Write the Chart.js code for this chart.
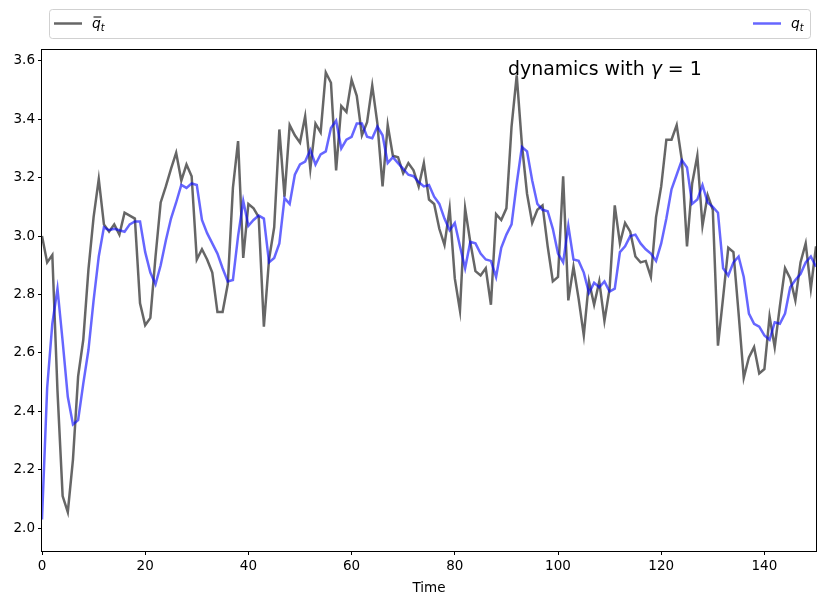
<!DOCTYPE html>
<html>
<head>
<meta charset="utf-8">
<script src="https://cdn.jsdelivr.net/npm/chart.js@4.4.0/dist/chart.umd.min.js"></script>
<style>
  body { margin: 0; background: #fff; }
  #wrap { width: 826px; height: 604px; }
</style>
</head>
<body>
<div id="wrap"><canvas id="chart" width="826" height="604"></canvas></div>
<script>
// time index 0..150
const timeSteps = [
  0, 1, 2, 3, 4, 5, 6, 7, 8, 9, 10, 11, 12, 13, 14, 15, 16, 17, 18, 19,
  20, 21, 22, 23, 24, 25, 26, 27, 28, 29, 30, 31, 32, 33, 34, 35, 36, 37, 38, 39,
  40, 41, 42, 43, 44, 45, 46, 47, 48, 49, 50, 51, 52, 53, 54, 55, 56, 57, 58, 59,
  60, 61, 62, 63, 64, 65, 66, 67, 68, 69, 70, 71, 72, 73, 74, 75, 76, 77, 78, 79,
  80, 81, 82, 83, 84, 85, 86, 87, 88, 89, 90, 91, 92, 93, 94, 95, 96, 97, 98, 99,
  100, 101, 102, 103, 104, 105, 106, 107, 108, 109, 110, 111, 112, 113, 114, 115, 116, 117, 118, 119,
  120, 121, 122, 123, 124, 125, 126, 127, 128, 129, 130, 131, 132, 133, 134, 135, 136, 137, 138, 139,
  140, 141, 142, 143, 144, 145, 146, 147, 148, 149, 150
];

// q-bar_t (grey)
const qBar = [
  3.00, 2.91, 2.935, 2.47, 2.11, 2.055, 2.235, 2.52, 2.645, 2.885,
  3.065, 3.195, 3.04, 3.015, 3.04, 3.005, 3.08, 3.07, 3.06, 2.77,
  2.695, 2.72, 2.93, 3.115, 3.17, 3.23, 3.285, 3.19, 3.245, 3.205,
  2.92, 2.955, 2.92, 2.875, 2.74, 2.74, 2.835, 3.165, 3.325, 2.925,
  3.11, 3.095, 3.065, 2.69, 2.92, 3.03, 3.365, 3.135, 3.38, 3.345,
  3.32, 3.41, 3.23, 3.385, 3.355, 3.56, 3.525, 3.225, 3.445, 3.425,
  3.535, 3.48, 3.345, 3.39, 3.515, 3.385, 3.17, 3.38, 3.275, 3.27,
  3.215, 3.25, 3.225, 3.17, 3.25, 3.125, 3.11, 3.025, 2.97, 3.095,
  2.855, 2.745, 3.095, 2.98, 2.88, 2.865, 2.89, 2.765, 3.075, 3.055,
  3.095, 3.375, 3.55, 3.315, 3.145, 3.045, 3.09, 3.105, 2.965, 2.845,
  2.86, 3.205, 2.78, 2.895, 2.785, 2.66, 2.845, 2.765, 2.845, 2.71,
  2.82, 3.105, 2.975, 3.045, 3.015, 2.93, 2.91, 2.915, 2.86, 3.065,
  3.17, 3.33, 3.33, 3.38, 3.26, 2.965, 3.18, 3.275, 3.035, 3.14,
  3.09, 2.625, 2.79, 2.96, 2.945, 2.735, 2.515, 2.585, 2.62, 2.53,
  2.545, 2.725, 2.62, 2.76, 2.89, 2.855, 2.78, 2.91, 2.975, 2.82,
  2.965
];

// q_t (blue)
const q = [
  2.03, 2.48, 2.70, 2.82, 2.64, 2.45, 2.355, 2.37, 2.495, 2.61,
  2.78, 2.93, 3.03, 3.02, 3.025, 3.02, 3.015, 3.04, 3.05, 3.05,
  2.945, 2.875, 2.835, 2.90, 2.985, 3.06, 3.115, 3.175, 3.165, 3.18,
  3.175, 3.055, 3.01, 2.975, 2.94, 2.89, 2.845, 2.85, 3.00, 3.12,
  3.035, 3.055, 3.07, 3.06, 2.91, 2.925, 2.975, 3.13, 3.11, 3.21,
  3.245, 3.255, 3.295, 3.245, 3.28, 3.29, 3.37, 3.395, 3.30, 3.33,
  3.34, 3.385, 3.385, 3.34, 3.335, 3.375, 3.345, 3.25, 3.27, 3.25,
  3.23, 3.21, 3.205, 3.185, 3.17, 3.175, 3.135, 3.11, 3.06, 3.02,
  3.045, 2.965, 2.89, 2.98, 2.975, 2.94, 2.92, 2.915, 2.86, 2.96,
  3.005, 3.04, 3.18, 3.305, 3.29, 3.19, 3.11, 3.09, 3.085, 3.025,
  2.94, 2.91, 3.035, 2.92, 2.915, 2.875, 2.805, 2.84, 2.825, 2.845,
  2.81, 2.82, 2.945, 2.965, 3.00, 3.005, 2.975, 2.955, 2.94, 2.915,
  2.975, 3.06, 3.16, 3.21, 3.26, 3.235, 3.11, 3.125, 3.175, 3.115,
  3.10, 3.08, 2.89, 2.865, 2.91, 2.93, 2.86, 2.735, 2.70, 2.69,
  2.66, 2.645, 2.705, 2.70, 2.735, 2.825, 2.85, 2.87, 2.91, 2.93,
  2.895
];

const xTicks = [0, 20, 40, 60, 80, 100, 120, 140];
const yTicks = [2.0, 2.2, 2.4, 2.6, 2.8, 3.0, 3.2, 3.4, 3.6];

const FONT = 'DejaVu Sans';
const greyColor = 'rgba(0, 0, 0, 0.6)';
const blueColor = 'rgba(0, 0, 255, 0.6)';

// draws q / q-bar with subscript t, mathtext style
function drawQ(ctx, x, y, bar) {
  ctx.font = 'italic 13.9px "' + FONT + '"';
  ctx.fillText('q', x, y);
  const w = ctx.measureText('q').width;
  if (bar) {
    ctx.beginPath();
    ctx.lineWidth = 1;
    ctx.strokeStyle = '#000';
    ctx.moveTo(x + 1.5, y - 11);
    ctx.lineTo(x + w + 0.5, y - 11);
    ctx.stroke();
  }
  ctx.font = 'italic 9.7px "' + FONT + '"';
  ctx.fillText('t', x + w, y + 2.5);
}

const decorations = {
  id: 'decorations',
  afterDraw(chart) {
    const { ctx, chartArea: a } = chart;
    ctx.save();

    // all four spines
    ctx.strokeStyle = '#000';
    ctx.lineWidth = 1;
    ctx.strokeRect(Math.round(a.left) - 0.5, Math.round(a.top) - 0.5,
      Math.round(a.right - a.left) + 1, Math.round(a.bottom - a.top) + 1);

    // text inside the axes
    ctx.fillStyle = '#000';
    ctx.textBaseline = 'alphabetic';
    let tx = 508, ty = 75;
    ctx.font = '18.9px "' + FONT + '"';
    ctx.fillText('dynamics with ', tx, ty);
    tx += ctx.measureText('dynamics with ').width;
    ctx.font = 'italic 18.9px "' + FONT + '"';
    ctx.fillText('γ', tx, ty);
    tx += ctx.measureText('γ').width;
    ctx.font = '18.9px "' + FONT + '"';
    ctx.fillText(' = 1', tx, ty);

    // legend box (expanded across the top)
    ctx.beginPath();
    ctx.roundRect(49.5, 9.5, 761, 29, 3);
    ctx.fillStyle = 'rgba(255,255,255,0.8)';
    ctx.fill();
    ctx.strokeStyle = 'rgba(204,204,204,0.9)';
    ctx.lineWidth = 1;
    ctx.stroke();

    ctx.lineWidth = 2.5;
    ctx.strokeStyle = greyColor;
    ctx.beginPath();
    ctx.moveTo(54, 23.5);
    ctx.lineTo(82, 23.5);
    ctx.stroke();

    ctx.strokeStyle = blueColor;
    ctx.beginPath();
    ctx.moveTo(753, 23.5);
    ctx.lineTo(781, 23.5);
    ctx.stroke();

    ctx.fillStyle = '#000';
    drawQ(ctx, 92, 28, true);
    drawQ(ctx, 791, 28, false);

    ctx.restore();
  }
};

const tickFont = { family: FONT, size: 13.5 };

new Chart(document.getElementById('chart').getContext('2d'), {
  type: 'line',
  data: {
    labels: timeSteps,
    datasets: [
      {
        label: 'q_t',
        data: q,
        borderColor: blueColor,
        borderWidth: 2.5,
        pointRadius: 0,
        tension: 0,
        fill: false,
        order: 0
      },
      {
        label: 'qbar_t',
        data: qBar,
        borderColor: greyColor,
        borderWidth: 2.5,
        pointRadius: 0,
        tension: 0,
        fill: false,
        order: 1
      }
    ]
  },
  options: {
    responsive: false,
    animation: false,
    layout: { padding: { top: 50, right: 10, bottom: 0, left: 0 } },
    plugins: {
      legend: { display: false },
      tooltip: { enabled: false }
    },
    scales: {
      x: {
        type: 'linear',
        min: 0,
        max: 150,
        afterBuildTicks: (s) => { s.ticks = xTicks.map((v) => ({ value: v })); },
        afterFit: (s) => { s.height = 53; },
        ticks: { color: '#000', font: tickFont, maxRotation: 0, autoSkip: false, padding: 3 },
        grid: { display: true, drawOnChartArea: false, drawTicks: true, tickLength: 4, color: '#000' },
        border: { display: false },
        title: {
          display: true,
          text: 'Time',
          color: '#000',
          font: tickFont,
          padding: { top: 0, bottom: 7 }
        }
      },
      y: {
        min: 1.922,
        max: 3.637,
        afterBuildTicks: (s) => { s.ticks = yTicks.map((v) => ({ value: v })); },
        afterFit: (s) => { s.width = 42; },
        ticks: {
          color: '#000',
          font: tickFont,
          padding: 3,
          callback: (v) => Number(v).toFixed(1)
        },
        grid: { display: true, drawOnChartArea: false, drawTicks: true, tickLength: 4, color: '#000' },
        border: { display: false }
      }
    }
  },
  plugins: [decorations]
});
</script>
</body>
</html>
